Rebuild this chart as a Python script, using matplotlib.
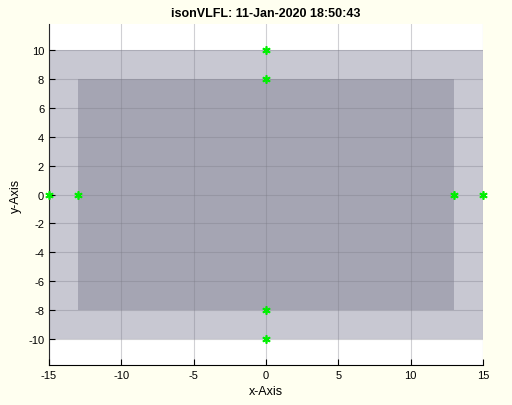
import matplotlib
matplotlib.use('Agg')
import matplotlib.pyplot as plt
from matplotlib.patches import Rectangle

plt.rcParams['font.family'] = ['Liberation Sans', 'DejaVu Sans']
plt.rcParams['axes.unicode_minus'] = False

# rectangulos (x0, y0, ancho, alto)
rect_ext = (-15, -10, 30, 20)
rect_int = (-13, -8, 26, 16)
# puntos verdes
px = [0, 0, -15, -13, 13, 15, 0, 0]
py = [10, 8, 0, 0, 0, 0, -8, -10]

fig = plt.figure(figsize=(5.12, 4.06), dpi=100, facecolor='#fffff0')
ax = fig.add_axes([0.0957, 0.0985, 0.8473, 0.8395])
ax.set_facecolor('white')

ax.add_patch(Rectangle(rect_ext[:2], rect_ext[2], rect_ext[3], facecolor='#c8c8d2', edgecolor='none', zorder=1))
ax.add_patch(Rectangle(rect_int[:2], rect_int[2], rect_int[3], facecolor='#a5a5b3', edgecolor='none', zorder=1))
ax.plot(px, py, linestyle='none', marker=(6, 2, 0), color='#00ee00', markersize=6,
        markeredgewidth=1.2, zorder=3, clip_on=False)

ax.set_xlim(-15, 15)
ax.set_ylim(-11.8, 11.8)
ax.set_xticks(range(-15, 16, 5))
ax.set_yticks(range(-10, 11, 2))
ax.grid(True, color='#7a7a86', alpha=0.35, linewidth=0.8, zorder=2)
ax.set_axisbelow(False)
for s in ['top', 'right']:
    ax.spines[s].set_visible(False)
ax.tick_params(direction='in', labelsize=8, length=4)

ax.set_xlabel('x-Axis', fontsize=9)
ax.set_ylabel('y-Axis', fontsize=9)
ax.set_title('isonVLFL: 11-Jan-2020 18:50:43', fontsize=9, fontweight='bold')

fig.savefig('out.png', dpi=100, facecolor=fig.get_facecolor())
